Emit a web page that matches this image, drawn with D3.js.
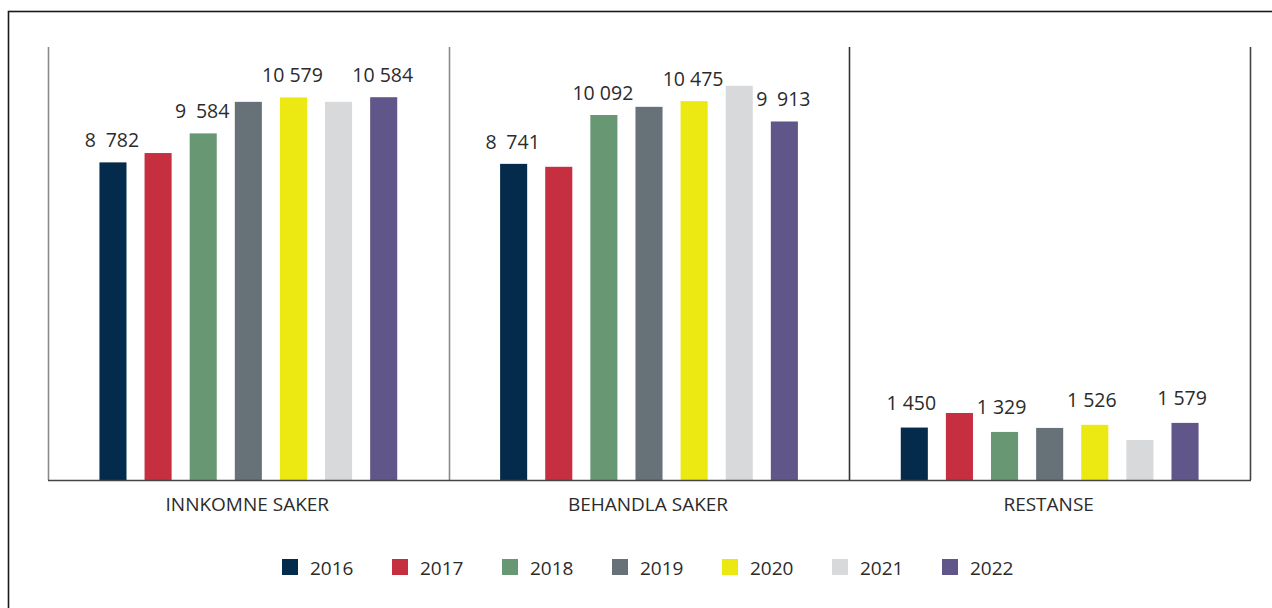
<!DOCTYPE html>
<html>
<head>
<meta charset="utf-8">
<script src="https://cdn.jsdelivr.net/npm/d3@7"></script>
<style>
  html, body { margin: 0; padding: 0; background: #ffffff; }
  svg { display: block; }
  text { font-family: "Open Sans", sans-serif; fill: #2b2b2b; }
</style>
</head>
<body>
<svg id="chart" width="1272" height="608"></svg>
<script>
const categories = ["INNKOMNE SAKER", "BEHANDLA SAKER", "RESTANSE"];
const years = ["2016", "2017", "2018", "2019", "2020", "2021", "2022"];
const colors = ["#052b4c", "#c52f40", "#689873", "#677278", "#ece912", "#d8d9db", "#615689"];
const values = {
  "INNKOMNE SAKER": [8782, 9040, 9584, 10456, 10579, 10456, 10584],
  "BEHANDLA SAKER": [8741, 8660, 10092, 10318, 10475, 10899, 9913],
  "RESTANSE":       [1450, 1853, 1329, 1440, 1526, 1106, 1579]
};
// which bars carry a value label (as in the original)
const labelled = {
  "INNKOMNE SAKER": [true, false, true, false, true, false, true],
  "BEHANDLA SAKER": [true, false, true, false, true, false, true],
  "RESTANSE":       [true, false, true, false, true, false, true]
};
const yDomain = [0, 12000];

const svg = d3.select("#chart");

// outer frame
svg.append("rect")
  .attr("x", 8.5).attr("y", 11.5)
  .attr("width", 1300).attr("height", 700)
  .attr("fill", "none").attr("stroke", "#1a1a1a").attr("stroke-width", 1.6);

const plotLeft = 48, plotRight = 1250, plotTop = 47, baseY = 480;

const x0 = d3.scaleBand().domain(categories).range([plotLeft, plotRight]).padding(0);
const x1 = d3.scaleBand().domain(years).range([0, x0.bandwidth()])
  .paddingInner(0.4).paddingOuter(1.14);
const y = d3.scaleLinear().domain(yDomain).range([baseY, 46]);

function fmt(v, i, cat) {
  const s = String(v);
  if (s.length <= 3) return s;
  const head = s.slice(0, s.length - 3), tail = s.slice(-3);
  return head + (head.length === 1 && cat !== "RESTANSE" ? "\u2002" : " ") + tail;
}

// vertical lines (left + dividers + right)
const vlines = [
  {x: x0.range()[0], c: "#8a8a8a"},
  {x: x0(categories[1]), c: "#8a8a8a"},
  {x: x0(categories[2]), c: "#333333"},
  {x: x0.range()[1], c: "#444444"}
];
svg.selectAll("line.v").data(vlines).enter().append("line")
  .attr("x1", d => Math.round(d.x) + 0.5).attr("x2", d => Math.round(d.x) + 0.5)
  .attr("y1", plotTop).attr("y2", baseY)
  .attr("stroke", d => d.c).attr("stroke-width", 1.6);

const groups = svg.selectAll("g.grp").data(categories).enter().append("g")
  .attr("transform", d => `translate(${x0(d)},0)`);

groups.selectAll("rect").data(cat => values[cat].map((v, i) => ({cat, v, i})))
  .enter().append("rect")
  .attr("x", d => x1(years[d.i]))
  .attr("width", x1.bandwidth())
  .attr("y", d => y(d.v))
  .attr("height", d => y(0) - y(d.v))
  .attr("fill", d => colors[d.i]);

groups.selectAll("text.val").data(cat => values[cat].map((v, i) => ({cat, v, i})).filter(d => labelled[d.cat][d.i]))
  .enter().append("text")
  .attr("class", "val")
  .attr("x", d => x1(years[d.i]) + x1.bandwidth() / 2 - (d.cat === "RESTANSE" ? 3 : 1))
  .attr("y", d => y(d.v) - (d.cat === "RESTANSE" ? 18 : 15))
  .attr("text-anchor", "middle")
  .style("font-size", "19.5px")
  .text(d => fmt(d.v, d.i, d.cat));

// baseline
svg.append("line")
  .attr("x1", plotLeft).attr("x2", plotRight + 1)
  .attr("y1", baseY + 0.5).attr("y2", baseY + 0.5)
  .attr("stroke", "#444444").attr("stroke-width", 1.6);

// category labels
svg.selectAll("text.cat").data(categories).enter().append("text")
  .attr("class", "cat")
  .attr("x", d => x0(d) + x0.bandwidth() / 2 - 1)
  .attr("y", 511)
  .attr("text-anchor", "middle")
  .style("font-size", "19px")
  .text(d => d);

// legend
const legend = svg.append("g");
const lx = d3.scaleBand().domain(years).range([282, 282 + 110 * 7]);
const li = legend.selectAll("g").data(years).enter().append("g")
  .attr("transform", d => `translate(${lx(d)},0)`);
li.append("rect").attr("x", 0).attr("y", 559).attr("width", 16).attr("height", 16)
  .attr("fill", (d, i) => colors[i]);
li.append("text").attr("x", 28).attr("y", 574.5).style("font-size", "19px").text(d => d);
</script>
</body>
</html>
